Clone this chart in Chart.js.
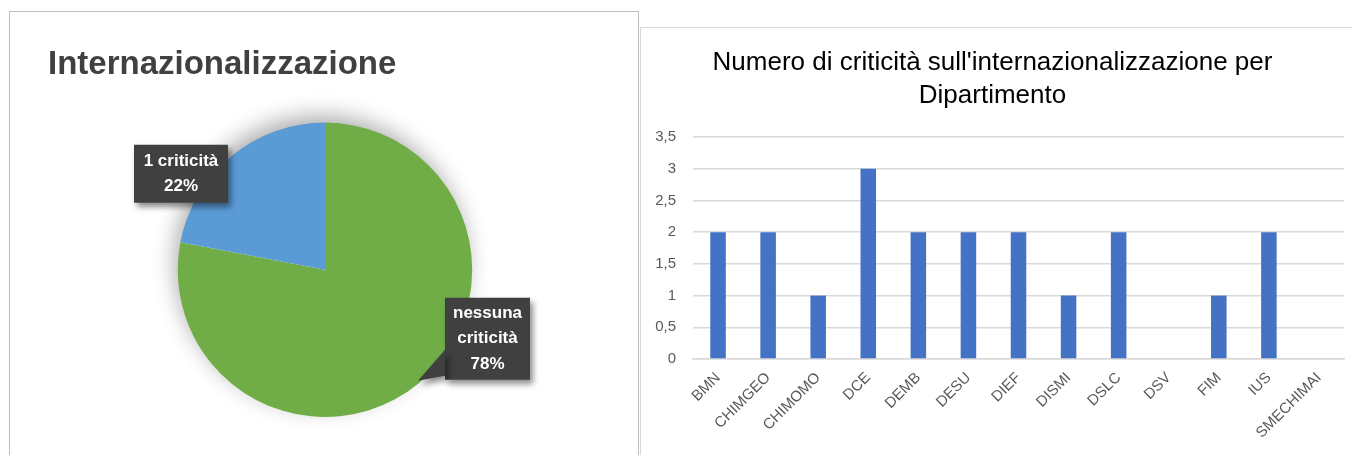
<!DOCTYPE html>
<html>
<head>
<meta charset="utf-8">
<script src="https://cdn.jsdelivr.net/npm/chart.js@4.4.0/dist/chart.umd.min.js"></script>
<style>
  body { margin: 0; width: 1352px; height: 455px; overflow: hidden; background: #fff; position: relative; }
  .frame { position: absolute; }
  #pieFrame { left: 9px; top: 11px; width: 628px; height: 470px; border: 1px solid #bfbfbf; }
  #barFrame { left: 640px; top: 27px; width: 730px; height: 450px; border-top: 1px solid #d9d9d9; border-left: 1px solid #d9d9d9; }
  .wrap { position: absolute; }
  #pieWrap { left: 10px; top: 12px; width: 627px; height: 443px; }
  #barWrap { left: 641px; top: 28px; width: 711px; height: 427px; }
</style>
</head>
<body>
<div class="frame" id="pieFrame"></div>
<div class="frame" id="barFrame"></div>
<div class="wrap" id="pieWrap"><canvas id="pieChart"></canvas></div>
<div class="wrap" id="barWrap"><canvas id="barChart"></canvas></div>

<script>
// pie data
const pieLabels = ['nessuna criticità', '1 criticità'];
const pieValues = [78, 22];
const pieColors = ['#70ad47', '#5b9bd5'];

// bar data
const departments = ['BMN', 'CHIMGEO', 'CHIMOMO', 'DCE', 'DEMB', 'DESU', 'DIEF', 'DISMI', 'DSLC', 'DSV', 'FIM', 'IUS', 'SMECHIMAI'];
const criticita = [2, 2, 1, 3, 2, 2, 2, 1, 2, 0, 1, 2, 0];
const yTicks = [0, 0.5, 1, 1.5, 2, 2.5, 3, 3.5];

const fontFamily = "'Liberation Sans', Arial, sans-serif";

// soft glow behind the pie
const pieShadow = {
  id: 'pieShadow',
  beforeDatasetsDraw(chart) {
    const arc = chart.getDatasetMeta(0).data[0];
    if (!arc) return;
    const ctx = chart.ctx;
    ctx.save();
    ctx.shadowColor = 'rgba(0,0,0,0.32)';
    ctx.shadowBlur = 22;
    ctx.shadowOffsetX = -4;
    ctx.shadowOffsetY = -8;
    ctx.fillStyle = '#fff';
    ctx.beginPath();
    ctx.arc(arc.x, arc.y, arc.outerRadius - 1, 0, Math.PI * 2);
    ctx.fill();
    ctx.restore();
  }
};

// dark callout boxes with the labels
const boxPlaces = [
  { dx: 162.5, dy: 69, w: 85, h: 82, pointer: [[0, 52], [-27, 83], [0, 78]] },
  { dx: -144, dy: -96, w: 94, h: 58 }
];

const calloutLabels = {
  id: 'calloutLabels',
  afterDatasetsDraw(chart) {
    const meta = chart.getDatasetMeta(0);
    const ctx = chart.ctx;
    const values = chart.data.datasets[0].data;
    const total = values.reduce((a, b) => a + b, 0);
    meta.data.forEach((arc, i) => {
      const p = boxPlaces[i];
      const x0 = arc.x + p.dx - p.w / 2;
      const y0 = arc.y + p.dy - p.h / 2;
      ctx.save();
      ctx.shadowColor = 'rgba(0,0,0,0.45)';
      ctx.shadowBlur = 6;
      ctx.shadowOffsetX = 3;
      ctx.shadowOffsetY = 4;
      ctx.fillStyle = '#404040';
      ctx.beginPath();
      ctx.rect(x0, y0, p.w, p.h);
      ctx.fill();
      if (p.pointer) {
        ctx.beginPath();
        ctx.moveTo(x0 + p.pointer[0][0], y0 + p.pointer[0][1]);
        p.pointer.slice(1).forEach(pt => ctx.lineTo(x0 + pt[0], y0 + pt[1]));
        ctx.closePath();
        ctx.fill();
      }
      ctx.restore();

      const label = chart.data.labels[i];
      const lines = label.length > 12 ? label.split(' ') : [label];
      lines.push(Math.round(values[i] / total * 100) + '%');
      ctx.save();
      ctx.fillStyle = '#fff';
      ctx.font = 'bold 17px ' + fontFamily;
      ctx.textAlign = 'center';
      ctx.textBaseline = 'middle';
      const lh = 25.5;
      const startY = y0 + p.h / 2 - (lines.length - 1) * lh / 2;
      lines.forEach((t, k) => ctx.fillText(t, x0 + p.w / 2, startY + k * lh));
      ctx.restore();
    });
  }
};

new Chart(document.getElementById('pieChart'), {
  type: 'pie',
  data: {
    labels: pieLabels,
    datasets: [{
      data: pieValues,
      backgroundColor: pieColors,
      borderWidth: 0
    }]
  },
  options: {
    responsive: true,
    maintainAspectRatio: false,
    animation: false,
    layout: { padding: { left: 38, right: 35, top: 0, bottom: 38 } },
    plugins: {
      legend: { display: false },
      tooltip: { enabled: false },
      title: {
        display: true,
        text: 'Internazionalizzazione',
        align: 'start',
        color: '#404040',
        font: { family: fontFamily, size: 33, weight: 'bold', lineHeight: 1.2 },
        padding: { top: 33, bottom: 38 }
      }
    }
  },
  plugins: [pieShadow, calloutLabels]
});

new Chart(document.getElementById('barChart'), {
  type: 'bar',
  data: {
    labels: departments,
    datasets: [{
      data: criticita,
      backgroundColor: '#4472c4',
      categoryPercentage: 1,
      barPercentage: 0.31
    }]
  },
  options: {
    responsive: true,
    maintainAspectRatio: false,
    animation: false,
    layout: { padding: { left: 0, right: 8, top: 0, bottom: 0 } },
    plugins: {
      legend: { display: false },
      tooltip: { enabled: false },
      title: {
        display: true,
        text: ["Numero di criticità sull'internazionalizzazione per", 'Dipartimento'],
        color: '#000',
        font: { family: fontFamily, size: 26, weight: 'normal', lineHeight: 1.27 },
        padding: { top: 18, bottom: 25 }
      }
    },
    scales: {
      x: {
        afterFit: (scale) => { scale.height = 96; },
        grid: { display: false },
        border: { display: true, color: '#d9d9d9', width: 1.5 },
        ticks: {
          color: '#595959',
          font: { family: fontFamily, size: 15 },
          minRotation: 45,
          maxRotation: 45,
          autoSkip: false,
          padding: 2
        }
      },
      y: {
        min: 0,
        max: 3.5,
        afterFit: (scale) => { scale.width = 52; },
        afterBuildTicks: (scale) => { scale.ticks = yTicks.map(v => ({ value: v })); },
        grid: { color: '#d9d9d9', lineWidth: 1.5, drawTicks: false },
        border: { display: false },
        ticks: {
          color: '#595959',
          font: { family: fontFamily, size: 15 },
          padding: 17,
          callback: (value) => String(value).replace('.', ',')
        }
      }
    }
  }
});
</script>
</body>
</html>
